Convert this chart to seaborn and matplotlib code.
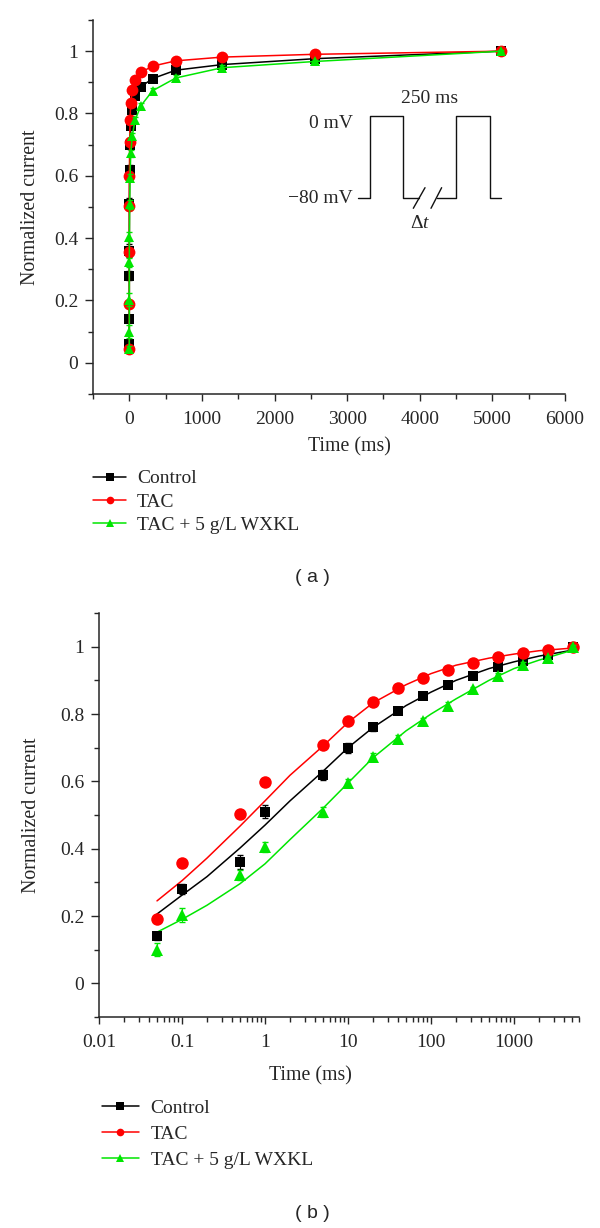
import matplotlib
matplotlib.use("Agg")
import matplotlib.pyplot as plt
from matplotlib.lines import Line2D
from matplotlib.ticker import MultipleLocator, LogLocator, FuncFormatter, NullFormatter
import seaborn as sns

# recovery time between the two pulses (ms)
time_ms = [0.05, 0.1, 0.5, 1, 5, 10, 20, 40, 80, 160, 320, 640, 1280, 2560, 5120]

# normalized current (mean) and error
control = [0.14, 0.28, 0.36, 0.51, 0.62, 0.70, 0.76, 0.81, 0.855, 0.886, 0.912, 0.939, 0.957, 0.976, 1.0]
tac = [0.19, 0.357, 0.503, 0.598, 0.708, 0.778, 0.835, 0.877, 0.907, 0.932, 0.952, 0.969, 0.981, 0.99, 1.0]
wxkl = [0.10, 0.203, 0.322, 0.405, 0.508, 0.594, 0.672, 0.727, 0.779, 0.825, 0.873, 0.914, 0.947, 0.967, 1.0]
control_err = [0.01, 0.015, 0.02, 0.02, 0.015, 0.015, 0.01, 0.01, 0.01, 0.008, 0.008, 0.006, 0.006, 0.005, 0.004]
tac_err = [0.008, 0.01, 0.01, 0.01, 0.01, 0.008, 0.008, 0.006, 0.006, 0.005, 0.005, 0.004, 0.004, 0.003, 0.003]
wxkl_err = [0.02, 0.02, 0.015, 0.015, 0.015, 0.012, 0.012, 0.01, 0.01, 0.01, 0.008, 0.008, 0.008, 0.006, 0.004]

# value at t = 0 (only on the linear axis)
start_value = [0.06, 0.045, 0.045]

# fitted curves
fit_time = [0.05, 0.1, 0.2, 0.5, 1, 2, 5, 10, 20, 50, 100, 200, 500, 1000, 2000, 5120]
fit_control = [0.206, 0.262, 0.317, 0.402, 0.47, 0.542, 0.63, 0.70, 0.76, 0.825, 0.865, 0.90, 0.935, 0.955, 0.972, 0.99]
fit_tac = [0.245, 0.305, 0.372, 0.467, 0.542, 0.618, 0.705, 0.775, 0.833, 0.887, 0.92, 0.945, 0.966, 0.978, 0.988, 0.996]
fit_wxkl = [0.152, 0.19, 0.232, 0.296, 0.355, 0.427, 0.52, 0.595, 0.67, 0.75, 0.80, 0.845, 0.90, 0.935, 0.96, 0.99]

groups = ["Control", "TAC", "TAC + 5 g/L WXKL"]
colors = ["#000000", "#ff0000", "#00e600"]
markers = ["s", "o", "^"]
msizes = [6.5, 8.5, 7.5]

series = [control, tac, wxkl]
errors = [control_err, tac_err, wxkl_err]
fits = [fit_control, fit_tac, fit_wxkl]

sns.set_style("ticks")
plt.rcParams["font.family"] = ["Liberation Serif", "DejaVu Serif"]
plt.rcParams["font.size"] = 14
plt.rcParams["axes.linewidth"] = 1.1
plt.rcParams["mathtext.fontset"] = "custom"
plt.rcParams["mathtext.rm"] = "Liberation Serif"
plt.rcParams["mathtext.it"] = "Liberation Serif:italic"

fig = plt.figure(figsize=(6, 12.28), dpi=100)
ax1 = fig.add_axes([0.155, 0.6792, 0.7867, 0.3045])
ax2 = fig.add_axes([0.165, 0.1718, 0.7993, 0.329])

# ---- panel a: linear time axis
for i in range(3):
    x = [0] + time_ms
    y = [start_value[i]] + series[i]
    e = [0.01] + errors[i]
    ax1.errorbar(x, y, yerr=e, fmt="none", ecolor=colors[i], elinewidth=0.8, capsize=2, zorder=2 + i)
    sns.lineplot(x=x, y=y, ax=ax1, color=colors[i], marker=markers[i], markersize=msizes[i],
                 markeredgewidth=0, linewidth=1.1, sort=False, errorbar=None, zorder=3 + i)

ax1.set_xlim(-500, 6000)
ax1.set_ylim(-0.1, 1.1)
ax1.xaxis.set_major_locator(MultipleLocator(1000))
ax1.xaxis.set_minor_locator(MultipleLocator(500))

# pulse protocol sketch
tr = ax1.transAxes
kw = dict(color="#111111", lw=1.0, transform=tr, clip_on=False)
ax1.plot([0.5614, 0.5869, 0.5869, 0.6568, 0.6568, 0.6907], [0.5241, 0.5241, 0.7441, 0.7441, 0.5241, 0.5241], **kw)
ax1.plot([0.7288, 0.7691, 0.7691, 0.8411, 0.8411, 0.8644], [0.5241, 0.5241, 0.7441, 0.7441, 0.5241, 0.5241], **kw)
ax1.plot([0.6786, 0.7034], [0.4965, 0.5516], **kw)
ax1.plot([0.7161, 0.7386], [0.4965, 0.5516], **kw)
ax1.text(0.714, 0.791, "250 ms", transform=tr, ha="center", va="center", fontsize=14)
ax1.text(0.551, 0.722, "0 mV", transform=tr, ha="right", va="center", fontsize=14)
ax1.text(0.551, 0.524, "\u221280 mV", transform=tr, ha="right", va="center", fontsize=14)
ax1.text(0.693, 0.455, r"$\mathrm{\Delta}\mathit{t}$", transform=tr, ha="center", va="center", fontsize=14)

# ---- panel b: log time axis
for i in range(3):
    sns.lineplot(x=fit_time, y=fits[i], ax=ax2, color=colors[i], linewidth=1.1, sort=False,
                 errorbar=None, zorder=2 + i)
    ax2.errorbar(time_ms, series[i], yerr=errors[i], fmt="none", ecolor=colors[i], elinewidth=0.8,
                 capsize=2, zorder=5 + i)
    sns.lineplot(x=time_ms, y=series[i], ax=ax2, color=colors[i], marker=markers[i],
                 markersize=msizes[i] + 0.5, markeredgewidth=0, linestyle="none", sort=False,
                 errorbar=None, zorder=6 + i)

ax2.set_xscale("log")
ax2.set_xlim(0.01, 6000)
ax2.set_ylim(-0.1, 1.1)
ax2.xaxis.set_major_locator(LogLocator(base=10, numticks=10))
ax2.xaxis.set_minor_locator(LogLocator(base=10, subs=range(2, 10), numticks=20))
ax2.xaxis.set_minor_formatter(NullFormatter())
ax2.xaxis.set_major_formatter(FuncFormatter(lambda v, p: f"{v:g}"))

for ax in (ax1, ax2):
    sns.despine(ax=ax)
    ax.yaxis.set_major_locator(MultipleLocator(0.2))
    ax.yaxis.set_minor_locator(MultipleLocator(0.1))
    ax.yaxis.set_major_formatter(FuncFormatter(lambda v, p: f"{v:g}"))
    ax.tick_params(axis="y", which="major", direction="out", length=6, width=1.0, pad=4.5, labelsize=14)
    ax.tick_params(axis="y", which="minor", direction="out", length=3.5, width=1.0)
    ax.tick_params(axis="x", which="major", direction="out", length=5, width=1.0, pad=7, labelsize=14)
    ax.tick_params(axis="x", which="minor", direction="out", length=3.5, width=1.0)
    ax.set_ylabel("Normalized current", fontsize=14.3)
    ax.set_xlabel("Time (ms)", fontsize=14.3)

ax1.xaxis.set_label_coords(0.544, -0.115)
ax1.yaxis.set_label_coords(-0.112, 0.5)
ax2.xaxis.set_label_coords(0.44, -0.123)
ax2.yaxis.set_label_coords(-0.121, 0.5)

# legends below each panel
handles = [Line2D([], [], color=colors[i], marker=markers[i], markersize=5.5, markeredgewidth=0, lw=1.1)
           for i in range(3)]
ax1.legend(handles, groups, loc="upper left", bbox_to_anchor=(0.155, 0.6175), bbox_transform=fig.transFigure,
           frameon=False, fontsize=14, handlelength=1.7, handletextpad=0.55, labelspacing=0.3,
           borderpad=0, borderaxespad=0)
ax2.legend(handles, groups, loc="upper left", bbox_to_anchor=(0.17, 0.1045), bbox_transform=fig.transFigure,
           frameon=False, fontsize=14, handlelength=1.9, handletextpad=0.6, labelspacing=0.42,
           borderpad=0, borderaxespad=0)

fig.text(0.52, 1 - 577 / 1228, "( a )", ha="center", va="center", fontsize=14, family="Liberation Sans")
fig.text(0.52, 1 - 1213 / 1228, "( b )", ha="center", va="center", fontsize=14, family="Liberation Sans")

fig.savefig("out.png", dpi=100)
